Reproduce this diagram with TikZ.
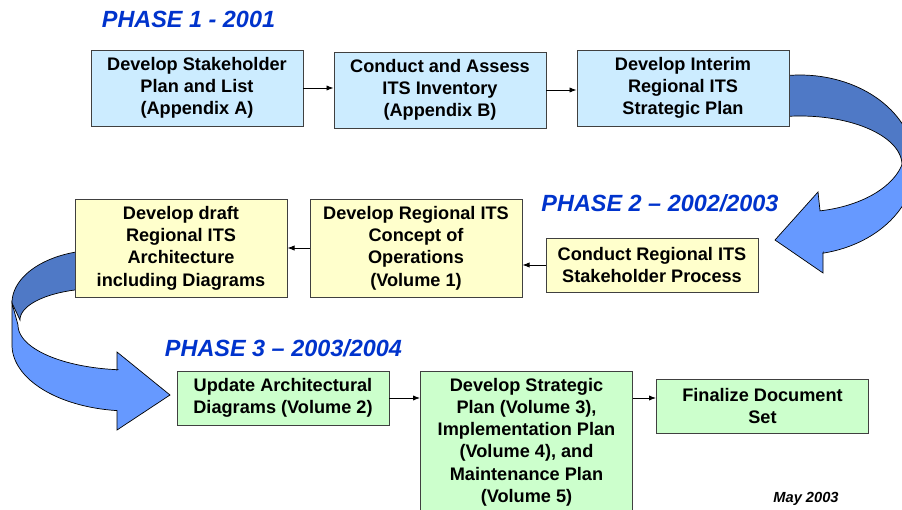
\documentclass[tikz,border=0pt]{standalone}
\usepackage{fontspec}
\setmainfont{Liberation Sans}
\usetikzlibrary{arrows.meta}

\definecolor{phaseblue}{RGB}{0,51,204}
\definecolor{boxblue}{RGB}{204,236,255}
\definecolor{boxyellow}{RGB}{255,255,204}
\definecolor{boxgreen}{RGB}{204,255,204}
\definecolor{bandback}{RGB}{79,121,198}
\definecolor{bandfront}{RGB}{102,153,255}

\begin{document}
\begin{tikzpicture}[x=0.03cm, y=0.03cm,
  task/.style={draw=black!75, line width=0.8pt, inner sep=0pt,
    minimum width=6.36cm, align=center,
    font=\fontsize{15.5}{19}\selectfont\bfseries},
  phase/.style={anchor=base, inner sep=0pt, text=phaseblue,
    font=\fontsize{20}{24}\selectfont\bfseries\itshape},
  flow/.style={line width=0.7pt, -{Latex[length=6pt,width=4.5pt]}},
  band/.style={draw=black, line width=0.6pt}]
\useasboundingbox (0,0) rectangle (902,-510);
\clip (0,0) rectangle (902,-510);
% phase 1 -> phase 2 ribbon
\filldraw[band, fill=bandback] plot[domain=97:0, samples=40, variable=\t] ({800+115*cos(\t)},{-165+90*sin(\t)})
  -- plot[domain=0:97, samples=40, variable=\t] ({800+102*cos(\t)},{-165+49*sin(\t)}) -- cycle;
\filldraw[band, fill=bandfront] plot[domain=0:79, samples=40, variable=\t] ({800+105*cos(\t)},{-150-62*sin(\t)})
  -- (818,-192) -- (775,-240) -- (823,-273) -- (823,-253)
  -- plot[domain=78.5:0, samples=40, variable=\t] ({800+115*cos(\t)},{-165-90*sin(\t)}) -- cycle;
% phase 2 -> phase 3 ribbon
\filldraw[band, fill=bandback] plot[domain=100:180, samples=40, variable=\t] ({100+88*cos(\t)},{-303+53*sin(\t)})
  -- plot[domain=180:100, samples=40, variable=\t] ({100+80*cos(\t)},{-320+31.6*sin(\t)}) -- cycle;
\filldraw[band, fill=bandfront] (12,-303) -- (12,-345)
  -- plot[domain=180:263.7, samples=40, variable=\t] ({130+118*cos(\t)},{-345+66*sin(\t)})
  -- (117,-430) -- (170,-395) -- (117,-352) -- (117,-370)
  -- plot[domain=263.6:180, samples=40, variable=\t] ({130+112*cos(\t)},{-325+45*sin(\t)}) -- cycle;

\node[phase] (p1) at (188.5,-28) {PHASE 1 - 2001};
\node[phase] (p2) at (660,-211) {PHASE 2 – 2002/2003};
\node[phase] (p3) at (283.5,-356) {PHASE 3 – 2003/2004};

\node[task, fill=boxblue, minimum height=2.28cm] (stake) at (197,-88) {Develop Stakeholder\\Plan and List\\(Appendix A)};
\node[task, fill=boxblue, minimum height=2.28cm] (inventory) at (440,-90) {Conduct and Assess\\ITS Inventory\\(Appendix B)};
\node[task, fill=boxblue, minimum height=2.28cm] (interim) at (683,-88) {Develop Interim\\Regional ITS\\Strategic Plan};

\node[task, fill=boxyellow, minimum height=2.94cm] (draft) at (181,-248) {Develop draft\\Regional ITS\\Architecture\\including Diagrams};
\node[task, fill=boxyellow, minimum height=2.94cm] (concept) at (416,-248) {Develop Regional ITS\\Concept of\\Operations\\(Volume 1)};
\node[task, fill=boxyellow, minimum height=1.62cm] (process) at (652,-265) {Conduct Regional ITS\\Stakeholder Process};

\node[task, fill=boxgreen, minimum height=1.62cm] (update) at (283,-398) {Update Architectural\\Diagrams (Volume 2)};
\node[task, fill=boxgreen, minimum height=4.26cm] (plans) at (526.5,-442) {Develop Strategic\\Plan (Volume 3),\\Implementation Plan\\(Volume 4), and\\Maintenance Plan\\(Volume 5)};
\node[task, fill=boxgreen, minimum height=1.62cm] (final) at (762.5,-406) {Finalize Document\\Set};

\node[anchor=base, inner sep=0pt, font=\fontsize{12.5}{15}\selectfont\bfseries\itshape] (date) at (806,-502) {May 2003};

\draw[flow] (stake.east) -- (stake.east -| inventory.west);
\draw[flow] (inventory.east) -- (inventory.east -| interim.west);
\draw[flow] (process.west) -- (process.west -| concept.east);
\draw[flow] (concept.west) -- (draft.east);
\draw[flow] (update.east) -- (update.east -| plans.west);
\draw[flow] (update.east -| plans.east) -- (update.east -| final.west);
\end{tikzpicture}
\end{document}
